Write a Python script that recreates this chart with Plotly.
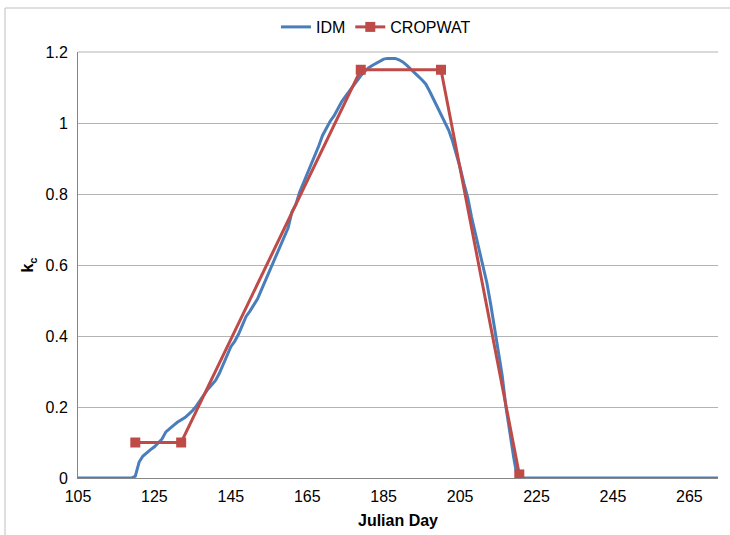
import plotly.graph_objects as go

# IDM daily crop coefficient
idm_day = [105, 119, 120, 121, 122, 123, 124, 125, 126, 127, 128, 129, 130, 131, 132, 133, 134,
           135, 136, 137, 138, 139, 140, 141, 142, 143, 144, 145, 146, 147, 148, 149, 150,
           151, 152, 153, 154, 155, 156, 157, 158, 159, 160, 161, 162, 163, 164, 165, 166,
           167, 168, 169, 170, 171, 172, 173, 174, 175, 176, 177, 178, 179, 180, 181, 182,
           183, 184, 185, 186, 187, 188, 189, 190, 191, 192, 193, 194, 195, 196, 197, 198,
           199, 200, 201, 202, 203, 204, 205, 206, 207, 208, 209, 210, 211, 212, 213, 214,
           215, 216, 217, 218, 219, 220, 273]
idm_kc = [0, 0, 0.005, 0.045, 0.062, 0.072, 0.08, 0.088, 0.098, 0.11, 0.13, 0.14, 0.148, 0.157, 0.163, 0.17, 0.18,
          0.19, 0.203, 0.22, 0.235, 0.25, 0.262, 0.275, 0.295, 0.32, 0.35, 0.37, 0.385, 0.405, 0.43, 0.455, 0.47,
          0.488, 0.505, 0.53, 0.555, 0.575, 0.605, 0.625, 0.65, 0.675, 0.705, 0.75, 0.77, 0.805, 0.83, 0.855, 0.885,
          0.91, 0.935, 0.965, 0.985, 1.005, 1.02, 1.04, 1.06, 1.075, 1.09, 1.105, 1.12, 1.133, 1.145, 1.155, 1.162,
          1.168, 1.174, 1.18, 1.182, 1.182, 1.182, 1.178, 1.172, 1.163, 1.152, 1.142, 1.132, 1.122, 1.11, 1.09, 1.068,
          1.048, 1.028, 1.005, 0.98, 0.95, 0.915, 0.875, 0.83, 0.79, 0.735, 0.69, 0.645, 0.60, 0.55, 0.49, 0.425,
          0.36, 0.29, 0.2, 0.125, 0.06, 0, 0]

# CROPWAT crop coefficient curve
cw_day = [120, 132, 179, 200, 220.5]
cw_kc = [0.1, 0.1, 1.15, 1.15, 0.01]

x_ticks = [105, 125, 145, 165, 185, 205, 225, 245, 265]
y_ticks = [0, 0.2, 0.4, 0.6, 0.8, 1.0, 1.2]
y_tick_text = ["0", "0.2", "0.4", "0.6", "0.8", "1", "1.2"]

BLUE = "#4A7EBB"
RED = "#BE4B48"
GRID = "#B3B3B3"
FONT = "Liberation Sans, Arial, sans-serif"

fig = go.Figure()
fig.add_trace(go.Scatter(x=idm_day, y=idm_kc, mode="lines", name="IDM",
                         line=dict(color=BLUE, width=3)))
fig.add_trace(go.Scatter(x=cw_day, y=cw_kc, mode="lines+markers", name="CROPWAT",
                         line=dict(color=RED, width=3),
                         marker=dict(symbol="square", size=10, color=RED)))

fig.update_layout(
    width=730, height=535,
    margin=dict(l=78, r=12, t=52, b=57, autoexpand=False),
    paper_bgcolor="white", plot_bgcolor="white",
    font=dict(family=FONT, size=16, color="black"),
    showlegend=True,
    legend=dict(orientation="h", x=0.515, xanchor="center", xref="container",
                y=(535 - 27) / 535, yanchor="middle", yref="container",
                font=dict(size=16), itemwidth=30, traceorder="normal"),
    xaxis=dict(range=[105, 272.5], tickvals=x_ticks, showgrid=False, zeroline=False,
               showline=True, linecolor="#868686", linewidth=1, ticks="",
               ticklabelstandoff=4,
               title=dict(text="<b>Julian Day</b>", font=dict(size=16), standoff=10),
               tickfont=dict(size=16)),
    yaxis=dict(range=[0, 1.2], tickvals=y_ticks, ticktext=y_tick_text, showgrid=True,
               gridcolor=GRID, gridwidth=1, zeroline=False,
               showline=True, linecolor="#868686", linewidth=1, ticks="",
               ticklabelstandoff=6,
               title=dict(text="<b>k<sub>c</sub></b>", font=dict(size=16), standoff=7),
               tickfont=dict(size=16)),
    shapes=[
        dict(type="line", xref="paper", yref="paper", x0=0, x1=1, y0=1, y1=1,
             line=dict(color=GRID, width=1)),
        dict(type="rect", xref="paper", yref="paper",
             x0=(5 - 78) / 640, x1=(740 - 78) / 640,
             y0=(478 - 545) / 426, y1=(478 - 8) / 426,
             line=dict(color="#BFBFBF", width=1), fillcolor="rgba(0,0,0,0)", layer="below"),
    ],
)

fig.write_html("out.html")
